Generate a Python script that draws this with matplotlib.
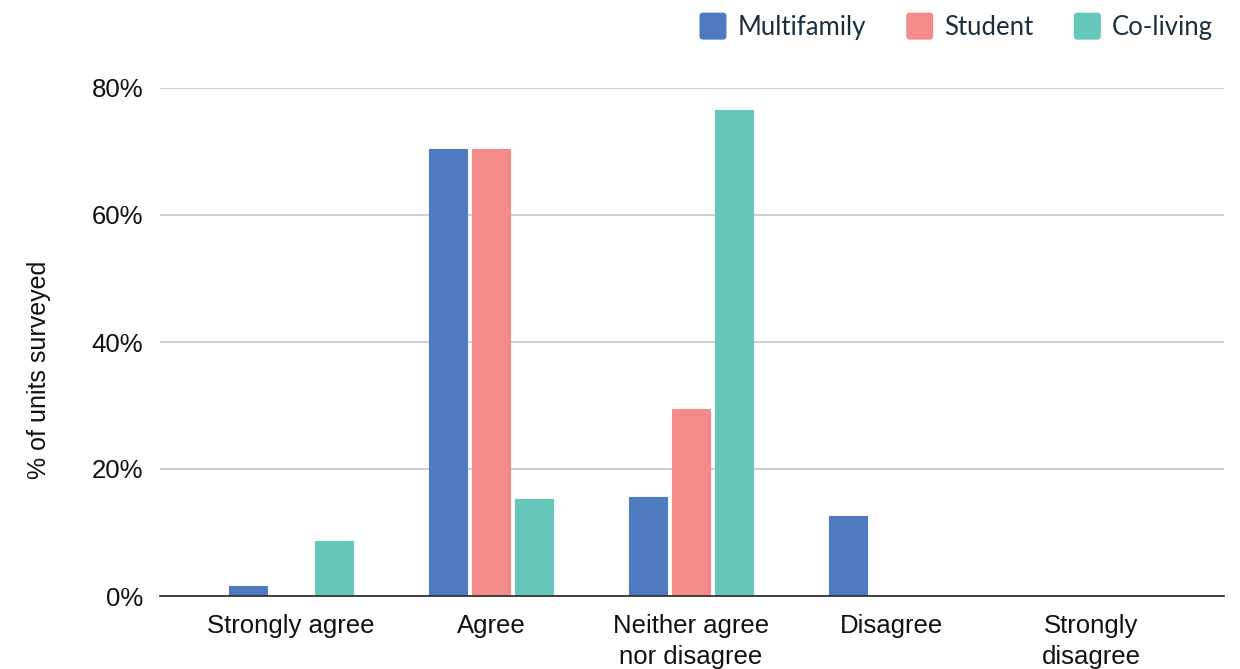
import numpy as np
import matplotlib.pyplot as plt
from matplotlib.patches import FancyBboxPatch
from matplotlib.legend_handler import HandlerPatch

# survey answers and share of units per property type (%)
categories = ['Strongly agree', 'Agree', 'Neither agree\nnor disagree', 'Disagree', 'Strongly\ndisagree']
multifamily = [1.6, 70.4, 15.6, 12.6, 0.0]
student = [0.0, 70.4, 29.4, 0.0, 0.0]
coliving = [8.7, 15.3, 76.5, 0.0, 0.0]

series = ['Multifamily', 'Student', 'Co-living']
colors = ['#4e7bc0', '#f28b89', '#67c7bb']
yticks = [0, 20, 40, 60, 80]

plt.rcParams['font.family'] = ['Liberation Sans', 'DejaVu Sans']

fig = plt.figure(figsize=(12.4, 6.69), dpi=100)
ax = fig.add_axes([160 / 1240, 1 - 596 / 669, (1224 - 160) / 1240, (596 - 88) / 669])

x = np.arange(len(categories))
width = 0.19
step = 0.215
for i, (vals, col) in enumerate(zip([multifamily, student, coliving], colors)):
    ax.bar(x + (i - 1) * step, vals, width, color=col, edgecolor=col, linewidth=0.8,
           zorder=3, label=series[i])

ax.set_xlim(-0.655, 4.665)
ax.set_ylim(0, 80)
ax.set_yticks(yticks)
ax.set_yticklabels([f'{t}%' for t in yticks])
ax.set_xticks(x)
ax.set_xticklabels(categories, linespacing=1.35)
ax.tick_params(axis='both', labelsize=18.5, colors='#111111', length=0)
ax.tick_params(axis='x', pad=13)
ax.tick_params(axis='y', pad=12)

ax.grid(axis='y', color='#c4c4c4', linewidth=1.1, zorder=0)
for side in ['top', 'right', 'left']:
    ax.spines[side].set_visible(False)
ax.spines['bottom'].set_color('#333333')
ax.spines['bottom'].set_linewidth(1.3)
ax.spines['bottom'].set_zorder(4)

ax.set_ylabel('% of units surveyed', fontsize=18, color='#111111')
ax.yaxis.set_label_coords(-0.102, 0.445)


class RoundedBox(HandlerPatch):
    def create_artists(self, legend, orig_handle, xdescent, ydescent, width, height, fontsize, trans):
        size = height * 1.5
        p = FancyBboxPatch((xdescent + (width - size) / 2, ydescent + (height - size) / 2),
                           size, size, boxstyle='round,pad=0,rounding_size=2.5',
                           facecolor=orig_handle.get_facecolor(), edgecolor='none',
                           transform=trans)
        return [p]


handles, labels = ax.get_legend_handles_labels()
leg = fig.legend([h.patches[0] for h in handles], labels, loc='upper right',
                 bbox_to_anchor=(1236 / 1240, 1 + 8 / 669), ncol=3, frameon=False,
                 prop={'family': ['Lato', 'DejaVu Sans'], 'size': 18.5},
                 handler_map={plt.Rectangle: RoundedBox()},
                 handlelength=1.0, handletextpad=0.45, columnspacing=1.6)
for t in leg.get_texts():
    t.set_color('#1b2f3e')

fig.savefig('out.png', dpi=100)
